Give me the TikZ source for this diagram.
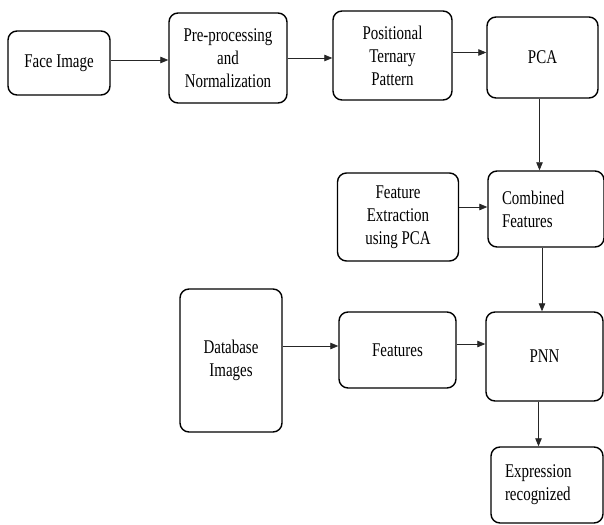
\documentclass[tikz,border=0pt]{standalone}
\usepackage{fontspec}
\setmainfont[FakeStretch=0.77]{Liberation Serif}
\usepackage{tikz}
\usetikzlibrary{arrows.meta}

\begin{document}
\begin{tikzpicture}[x=1bp,y=-1bp,
  box/.style={draw=black,rounded corners=9bp,line width=1.4bp,inner sep=0pt,align=center,
    font=\fontsize{19.5}{23}\selectfont},
  leftbox/.style={box,align=left,inner xsep=14bp},
  flow/.style={-{Triangle[length=8bp,width=6.5bp]},line width=0.8bp,black!85}]
\useasboundingbox (0,0) rectangle (604,525);
\node[box,minimum width=102bp,minimum height=64bp] (face) at (59,63) {Face Image};
\node[box,minimum width=118bp,minimum height=90bp] (prep) at (228,58) {Pre-processing\\and\\Normalization};
\node[box,minimum width=119bp,minimum height=89bp] (ptp) at (392.5,55.5) {Positional\\Ternary\\Pattern};
\node[box,minimum width=111bp,minimum height=81bp] (pca) at (542.5,57.5) {PCA};
\node[box,minimum width=121bp,minimum height=88bp] (fext) at (398,217) {Feature\\Extraction\\using PCA};
\node[leftbox,minimum width=116bp,minimum height=76bp,text width=88bp] (comb) at (546,209) {Combined\\Features};
\node[box,minimum width=102bp,minimum height=143bp] (dbimg) at (231,360.5) {Database\\Images};
\node[box,minimum width=117bp,minimum height=76bp] (feat) at (397.5,350) {Features};
\node[box,minimum width=117bp,minimum height=89bp] (pnn) at (544.5,356.5) {PNN};
\node[leftbox,minimum width=112bp,minimum height=76bp,text width=84bp,inner xsep=12bp] (expr) at (547,485) {Expression\\recognized};
\draw[flow] ([yshift=3bp]face.east) -- ([yshift=3bp]face.east -| prep.west);
\draw[flow] (prep.east) -- (prep.east -| ptp.west);
\draw[flow] ([yshift=3bp]ptp.east) -- ([yshift=3bp]ptp.east -| pca.west);
\draw[flow] ([xshift=-3bp]pca.south) -- ([xshift=-3bp]pca.south |- comb.north);
\draw[flow] ([yshift=10bp]fext.east) -- ([yshift=10bp]fext.east -| comb.west);
\draw[flow] ([xshift=-4bp]comb.south) -- ([xshift=-4bp]comb.south |- pnn.north);
\draw[flow] ([yshift=4bp]feat.west -| dbimg.east) -- ([yshift=4bp]feat.west);
\draw[flow] ([yshift=6bp]feat.east) -- ([yshift=6bp]feat.east -| pnn.west);
\draw[flow] ([xshift=-6bp]pnn.south) -- ([xshift=-6bp]pnn.south |- expr.north);
\end{tikzpicture}
\end{document}
